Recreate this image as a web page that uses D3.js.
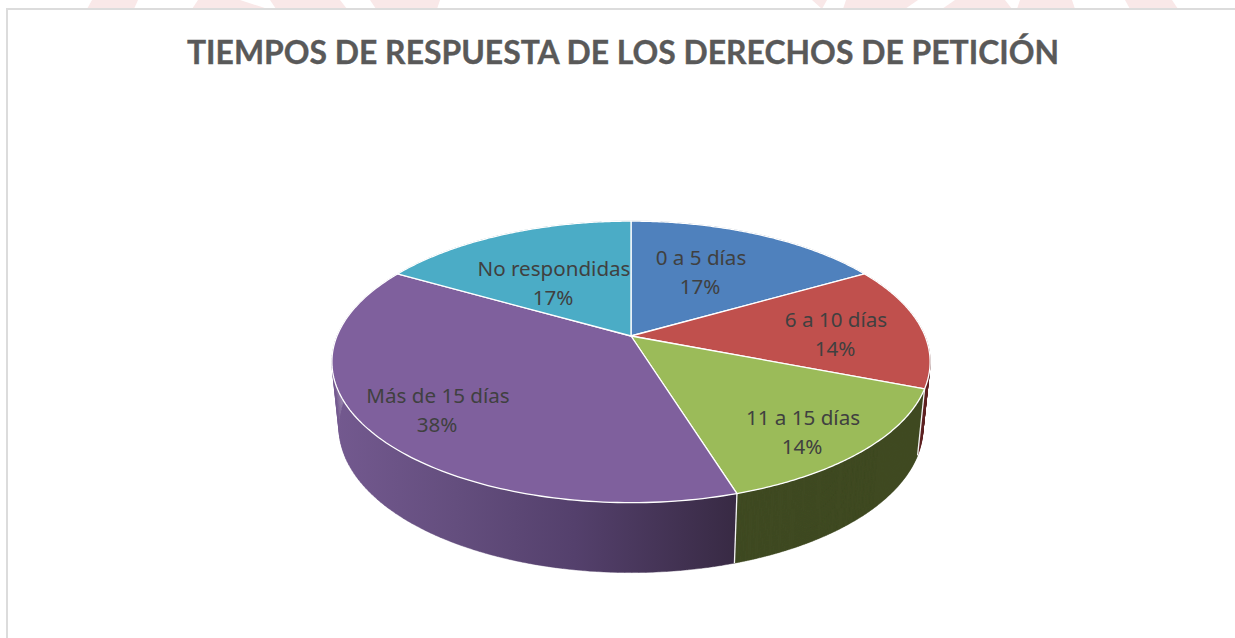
<!DOCTYPE html>
<html><head><meta charset="utf-8">
<script src="https://cdnjs.cloudflare.com/ajax/libs/d3/7.8.5/d3.min.js"></script>
<style>html,body{margin:0;background:#fff}svg{display:block}</style></head>
<body><svg id="c" width="1235" height="638"></svg>
<script>
const chartTitle = "TIEMPOS DE RESPUESTA DE LOS DERECHOS DE PETICIÓN";
const categories = ["0 a 5 días","6 a 10 días","11 a 15 días","Más de 15 días","No respondidas"];
const values = [16.7,14.2,14.3,38.1,16.7];
const topColors = ["#4f81bd","#c0504d","#9bbb59","#7f609d","#4bacc6"];
const sideColors = ["#2a4566","#5e2220","#3f4a22","#4e3c66","#22606f"];

const svg = d3.select("#c");
// perspective model of the pie's upper and lower discs
const cx=631, k=0.184;
const topDisc={cy:336,a:136,b:294}, lowDisc={cy:401,a:140,b:287};
const project=(disc,ang)=>{const u=Math.sin(ang),v=Math.cos(ang),w=1+k*v;return [cx+disc.b*u/w, disc.cy-disc.a*v/w];};
const proj=a=>project(topDisc,a), projB=a=>project(lowDisc,a);
const arcs=d3.pie().sort(null).value(d=>d)(values);
const steps=(s,e,n=120)=>d3.range(0,n+1).map(i=>s+(e-s)*i/n);
const line=d3.line();

const defs=svg.append("defs");
const g=defs.append("linearGradient").attr("id","sideGrad").attr("gradientUnits","userSpaceOnUse").attr("x1",335).attr("x2",735).attr("y1",0).attr("y2",0);
[[0,"#73598f"],[0.3,"#644e7e"],[0.6,"#54406c"],[1,"#382a44"]].forEach(s=>g.append("stop").attr("offset",s[0]).attr("stop-color",s[1]));

// decorative pink watermark behind the chart frame
svg.append("g").attr("fill","#f9e8e8").selectAll("path").data([
 [[87,9],[92,0],[138,0],[134,9]],[[192,9],[198,0],[240,0],[268,9]],[[276,9],[270,0],[340,0],[347,9]],
 [[376,9],[370,0],[440,0],[437,9]],[[812,0],[827,0],[822,9]],[[843,9],[846,0],[918,0],[905,9]],
 [[942,9],[955,0],[1005,0],[1012,9]],[[1017,9],[1020,0],[1072,0],[1075,9]],[[1130,9],[1125,0],[1172,0],[1178,9]]
]).join("path").attr("d",d=>line(d)+"Z");

// frame
svg.append("path").attr("d","M7,638V9H1235").attr("fill","none").attr("stroke","#dcdcdc").attr("stroke-width",2);

svg.append("text").attr("x",623).attr("y",64).attr("text-anchor","middle")
 .attr("font-family","Lato").attr("font-weight",700).attr("font-size",31.9).attr("fill","#595959")
 .attr("stroke","#595959").attr("stroke-width",0.35).text(chartTitle);

// side walls: union of thin quads so the silhouette stays continuous
const sideG=svg.append("g");
arcs.forEach((d,i)=>{
  const st=steps(d.startAngle,d.endAngle);
  let dStr="";
  for(let j=0;j<st.length-1;j++){
    dStr+=line([proj(st[j]),proj(st[j+1]),projB(st[j+1]),projB(st[j])])+"Z";
  }
  const paint=i===3?"url(#sideGrad)":sideColors[i];
  sideG.append("path").attr("d",dStr).attr("fill",paint).attr("fill-rule","nonzero")
    .attr("stroke",paint).attr("stroke-width",0.4);
});
// light edges between the visible walls
[arcs[1].endAngle,arcs[2].endAngle].forEach(seam=>{
  svg.append("path").attr("d",line([proj(seam),projB(seam)])).attr("stroke","#f4f4f4").attr("stroke-width",1.3).attr("fill","none");
});

// top disc
const topG=svg.append("g");
arcs.forEach((d,i)=>{
  const pts=[[cx,topDisc.cy]].concat(steps(d.startAngle,d.endAngle).map(proj));
  topG.append("path").attr("d",line(pts)+"Z").attr("fill",topColors[i])
    .attr("stroke","#fff").attr("stroke-width",1.3).attr("stroke-linejoin","round");
});

// labels
const labelPos=[[701,258],[836,320],[803,418],[438,396],[554,269]];
const lab=svg.append("g").attr("font-family","Noto Sans").attr("font-size",20.6).attr("fill","#404040").attr("text-anchor","middle");
arcs.forEach((d,i)=>{
  const t=lab.append("text").attr("x",labelPos[i][0]).attr("y",labelPos[i][1]+7);
  t.append("tspan").attr("x",labelPos[i][0]).text(categories[i]);
  t.append("tspan").attr("x",labelPos[i][0]-1).attr("dy",29).text(Math.round(values[i])+"%");
});
</script></body></html>
